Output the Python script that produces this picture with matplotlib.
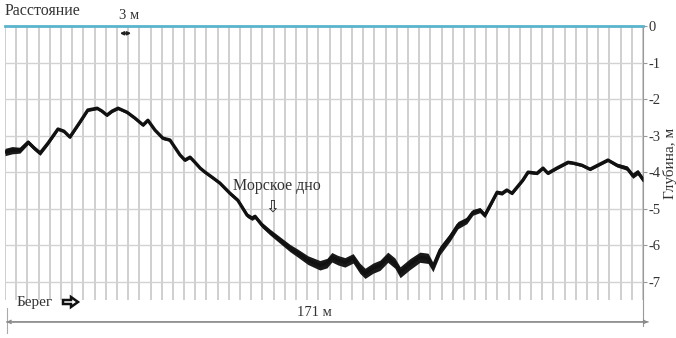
import matplotlib
matplotlib.use("Agg")
import matplotlib.pyplot as plt
from matplotlib.patches import FancyArrow
import numpy as np

# echo sounder profile: distance from shore (m) and depth (m)
distance = [0, 1.9, 4.0, 6.2, 7.8, 9.4, 11.5, 14.2, 15.8, 17.4,
            20.1, 22.2, 24.7, 26.0, 27.3, 28.7, 30.3, 32.7, 34.8, 37.0,
            38.3, 40.2, 42.3, 44.2, 46.9, 48.2, 49.6, 50.9, 52.3, 53.6,
            55.5, 57.6, 60.3, 62.4, 64.9, 66.2, 67.0, 68.9, 71.0, 73.7,
            76.4, 78.5, 81.2, 84.4, 86.3, 87.6, 89.2, 91.1, 93.3, 95.1,
            96.5, 98.6, 100.5, 102.6, 104.5, 105.9, 108.5, 111.2, 113.4, 114.7,
            116.6, 119.3, 121.4, 123.8, 125.4, 127.3, 128.6, 130.5, 131.9, 133.2,
            134.5, 135.9, 138.8, 140.2, 142.6, 144.2, 145.5, 147.9, 150.9, 152.2,
            154.6, 156.8, 158.9, 161.6, 164.0, 166.7, 168.3, 169.6, 171.0]
depth = [-3.45, -3.40, -3.40, -3.18, -3.34, -3.48, -3.21, -2.82, -2.88, -3.04,
         -2.63, -2.30, -2.25, -2.33, -2.44, -2.33, -2.25, -2.36, -2.52, -2.71,
         -2.58, -2.85, -3.07, -3.12, -3.53, -3.67, -3.59, -3.73, -3.89, -4.00,
         -4.14, -4.30, -4.58, -4.77, -5.18, -5.26, -5.21, -5.45, -5.64, -5.86,
         -6.08, -6.22, -6.41, -6.55, -6.49, -6.33, -6.41, -6.47, -6.36, -6.63,
         -6.77, -6.63, -6.55, -6.33, -6.49, -6.74, -6.52, -6.33, -6.36, -6.60,
         -6.14, -5.78, -5.45, -5.32, -5.10, -5.04, -5.18, -4.82, -4.55, -4.58,
         -4.49, -4.58, -4.22, -4.00, -4.03, -3.89, -4.03, -3.89, -3.73, -3.75,
         -3.81, -3.92, -3.81, -3.67, -3.81, -3.89, -4.10, -4.00, -4.20]
# spread of the overlapping echo traces around the profile
spread = [0.10, 0.10, 0.08, 0.06, 0.06, 0.06, 0.05, 0.04, 0.04, 0.04,
          0.04, 0.04, 0.04, 0.04, 0.04, 0.04, 0.04, 0.04, 0.04, 0.04,
          0.04, 0.04, 0.04, 0.04, 0.04, 0.04, 0.04, 0.04, 0.04, 0.04,
          0.04, 0.04, 0.05, 0.05, 0.06, 0.06, 0.06, 0.07, 0.08, 0.09,
          0.10, 0.11, 0.12, 0.13, 0.13, 0.13, 0.13, 0.13, 0.13, 0.14,
          0.14, 0.14, 0.14, 0.14, 0.14, 0.15, 0.15, 0.14, 0.14, 0.13,
          0.12, 0.11, 0.10, 0.09, 0.08, 0.07, 0.07, 0.06, 0.05, 0.05,
          0.04, 0.04, 0.04, 0.04, 0.04, 0.04, 0.04, 0.04, 0.04, 0.04,
          0.04, 0.04, 0.04, 0.04, 0.05, 0.06, 0.07, 0.07, 0.07]

depth_ticks = [0, -1, -2, -3, -4, -5, -6, -7]
grid_step = 3
total_length = 171

serif = "Liberation Serif"
txt = "#333333"

fig = plt.figure(figsize=(6.76, 3.38), dpi=100)
ax = fig.add_axes([5 / 676, 38 / 338, 638 / 676, 274 / 338])
ax.set_xlim(0, total_length)
ax.set_ylim(-7.5, 0)

for x in np.arange(0, total_length + 1, grid_step):
    ax.axvline(x, color="#c2c2c2", lw=1.1, zorder=1)
for y in depth_ticks[1:]:
    ax.axhline(y, color="#d2d2d2", lw=1.0, zorder=1)
ax.axhline(0, color="#5ab4cc", lw=2.0, zorder=3, clip_on=False)

d = np.array(depth)
s = np.array(spread)
ax.fill_between(distance, d - s, d + s, color="#1a1a1a", lw=0, zorder=4)
ax.plot(distance, depth, color="#111111", lw=2.4, zorder=5)

for side in ["top", "left", "bottom"]:
    ax.spines[side].set_visible(False)
ax.spines["right"].set_color("#999999")
ax.spines["right"].set_bounds(-8.2, 0)
ax.set_xticks([])
ax.yaxis.tick_right()
ax.yaxis.set_label_position("right")
ax.set_yticks(depth_ticks)
ax.set_yticklabels([str(v) for v in depth_ticks], fontfamily=serif, fontsize=10.5, color=txt)
ax.tick_params(axis="y", length=3, width=0.8, color="#999999", pad=1)
ax.set_ylabel("Глубина, м", fontfamily=serif, fontsize=11, color=txt, labelpad=2)

# header: distance scale
ax.text(0, 0.42, "Расстояние", fontfamily=serif, fontsize=11.5, color=txt,
        ha="left", va="center", clip_on=False)
ax.text(33.2, 0.3, "3 м", fontfamily=serif, fontsize=10.5, color=txt,
        ha="center", va="center", clip_on=False)
ax.annotate("", xy=(33.8, -0.2), xytext=(30.8, -0.2),
            arrowprops=dict(arrowstyle="<|-|>", color="#222222", lw=1.2,
                            mutation_scale=5, shrinkA=0, shrinkB=0), zorder=6)

# sea bottom label
ax.text(73.0, -4.38, "Морское дно", fontfamily=serif, fontsize=11.5, color=txt,
        ha="center", va="center", zorder=6)
ax.text(71.6, -4.95, "⇩", fontfamily="DejaVu Sans", fontsize=12, color="#222222",
        ha="center", va="center", zorder=6)

# shore label and overall length
tr = ax.get_xaxis_transform()
ax.text(3.2, -0.008, "Берег", fontfamily=serif, fontsize=11, color=txt,
        ha="left", va="center", transform=tr, clip_on=False)
fig.patches.append(FancyArrow(63 / 676, 36 / 338, 15 / 676, 0, width=4 / 338,
                              head_width=10 / 338, head_length=7 / 676,
                              length_includes_head=True, transform=fig.transFigure,
                              facecolor="white", edgecolor="#111111", lw=1.8))
for a, b in [(0.4, 172.4), (172.4, 0.4)]:
    ax.annotate("", xy=(b, -0.08), xytext=(a, -0.08), xycoords=tr, textcoords=tr,
                arrowprops=dict(arrowstyle="->", color="#888888", lw=0.9,
                                mutation_scale=6, shrinkA=0, shrinkB=0))
ax.plot([0.5, 0.5], [-0.03, -0.12], color="#aaaaaa", lw=0.8, transform=tr, clip_on=False)
ax.text(83.0, -0.045, "171 м", fontfamily=serif, fontsize=10.5, color=txt,
        ha="center", va="center", transform=tr, clip_on=False)

fig.savefig("out.png", dpi=100)
